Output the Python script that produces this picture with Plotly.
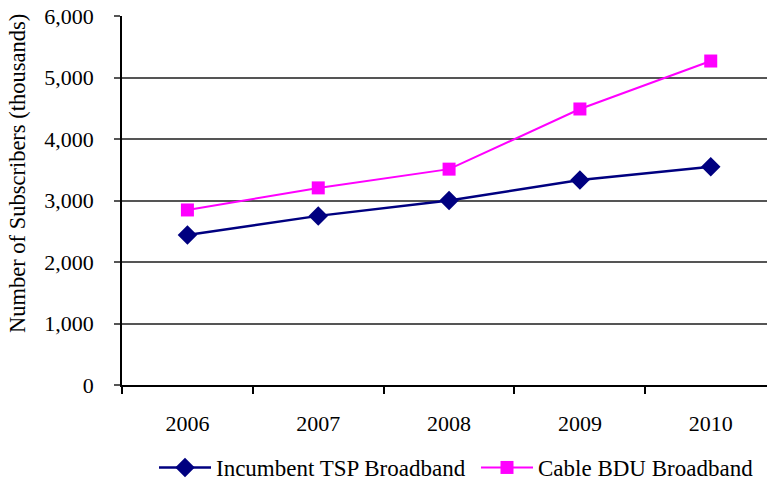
import plotly.graph_objects as go

years = ["2006", "2007", "2008", "2009", "2010"]
incumbent_tsp = [2440, 2750, 3000, 3335, 3550]
cable_bdu = [2846, 3205, 3510, 4488, 5268]
y_ticks = [0, 1000, 2000, 3000, 4000, 5000, 6000]

FONT = "'Times New Roman', 'Liberation Serif', serif"

fig = go.Figure()
fig.add_trace(go.Scatter(
    x=years, y=incumbent_tsp, name="Incumbent TSP Broadband",
    mode="lines+markers",
    line=dict(color="#000080", width=2.5),
    marker=dict(symbol="diamond", size=15, color="#000080"),
))
fig.add_trace(go.Scatter(
    x=years, y=cable_bdu, name="Cable BDU Broadband",
    mode="lines+markers",
    line=dict(color="#FF00FF", width=2),
    marker=dict(symbol="square", size=13, color="#FF00FF"),
))

fig.update_layout(
    width=767, height=489,
    margin=dict(l=122, r=0, t=16, b=104, autoexpand=False),
    paper_bgcolor="white", plot_bgcolor="white",
    font=dict(family=FONT, size=22, color="black"),
    showlegend=True,
    legend=dict(
        orientation="h", xref="container", yref="container",
        x=154 / 767, xanchor="left", y=0.0, yanchor="bottom",
        font=dict(family=FONT, size=23, color="black"),
        itemwidth=52, tracegroupgap=0,
        entrywidth=255, entrywidthmode="pixels",
    ),
    xaxis=dict(
        type="category", range=[-0.5, 4.43],
        showgrid=False, showline=True, linecolor="black", linewidth=1.5,
        ticks="outside", tickson="boundaries", ticklen=7, tickcolor="black",
        tickwidth=1.5, ticklabelstandoff=18,
        tickfont=dict(family=FONT, size=22),
    ),
    yaxis=dict(
        range=[0, 6000], tickvals=y_ticks, tickformat=",",
        showgrid=True, gridcolor="#555555", gridwidth=1.5,
        zeroline=False, showline=True, linecolor="black", linewidth=1.5,
        ticks="outside", ticklen=6, tickcolor="#555555", tickwidth=1.5,
        ticklabelstandoff=16,
        tickfont=dict(family=FONT, size=22),
    ),
    annotations=[dict(
        text="Number of Subscribers (thousands)", textangle=-90,
        xref="paper", yref="paper", x=-0.161, y=0.572,
        xanchor="center", yanchor="middle", showarrow=False,
        font=dict(family=FONT, size=22.5, color="black"),
    )],
)

fig.write_html("out.html")
